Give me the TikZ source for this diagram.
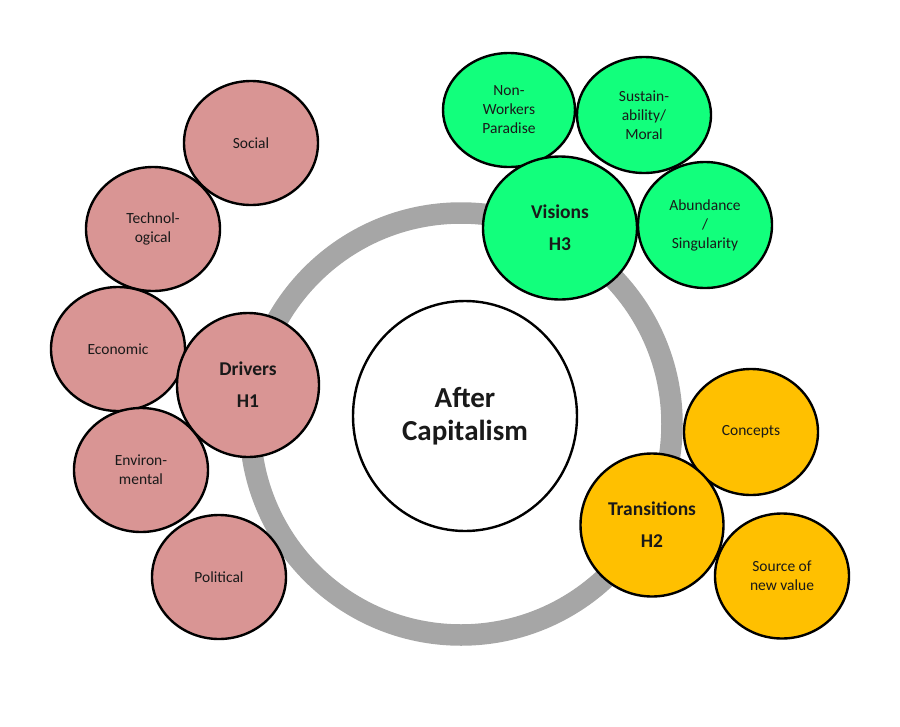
\documentclass[tikz,border=0pt]{standalone}
\usepackage{fontspec}
\setmainfont{Carlito}
\usetikzlibrary{shapes.geometric}
\definecolor{pinkc}{HTML}{D99594}
\definecolor{greenc}{HTML}{12FF7C}
\definecolor{goldc}{HTML}{FFC000}
\definecolor{ringc}{HTML}{A6A6A6}
\begin{document}
\begin{tikzpicture}[x=1pt,y=-1pt,
  bub/.style={ellipse,draw=black,line width=2.4pt,inner sep=0pt,align=center,text=black!90},
  small/.style={bub,font=\fontsize{15.5}{19}\selectfont},
  big/.style={bub,font=\fontsize{19.5}{32}\selectfont\bfseries},
  pk/.style={fill=pinkc},
  gr/.style={fill=greenc},
  gd/.style={fill=goldc}]
\useasboundingbox (0,0) rectangle (900,726);
% ring
\coordinate (rc) at (461,424);
\draw[ringc,line width=21.5pt] (rc) circle[radius=211];
% centre
\node[bub,fill=white,minimum width=224pt,minimum height=230pt,font=\fontsize{29}{33}\selectfont\bfseries] (after) at (465,416) {After\\Capitalism};
% drivers group
\node[small,pk,minimum width=134pt,minimum height=124pt] (social) at (251,143) {Social};
\node[small,pk,minimum width=134pt,minimum height=124pt] (tech) at (153,229) {Technol-\\ogical};
\node[small,pk,minimum width=134pt,minimum height=124pt] (econ) at (118,349) {Economic};
\node[small,pk,minimum width=134pt,minimum height=124pt] (env) at (141,470) {Environ-\\mental};
\node[small,pk,minimum width=134pt,minimum height=124pt] (pol) at (219,577) {Political};
\node[big,pk,minimum width=142pt,minimum height=144pt] (drivers) at (248,385) {Drivers\\H1};
% visions group
\node[small,gr,minimum width=132pt,minimum height=114pt] (nonw) at (509,110) {Non-\\Workers\\Paradise};
\node[small,gr,minimum width=134pt,minimum height=116pt] (sust) at (644,115) {Sustain-\\ability/\\Moral};
\node[small,gr,minimum width=134pt,minimum height=126pt] (abund) at (705,225) {Abundance\\/\\Singularity};
\node[big,gr,minimum width=154pt,minimum height=143pt] (visions) at (560,228) {Visions\\H3};
% transitions group
\node[small,gd,minimum width=134pt,minimum height=126pt] (concepts) at (751,432) {Concepts};
\node[small,gd,minimum width=134pt,minimum height=125pt] (source) at (782,576) {Source of\\new value};
\node[big,gd,minimum width=143pt,minimum height=143pt] (trans) at (652,525) {Transitions\\H2};
\end{tikzpicture}
\end{document}
